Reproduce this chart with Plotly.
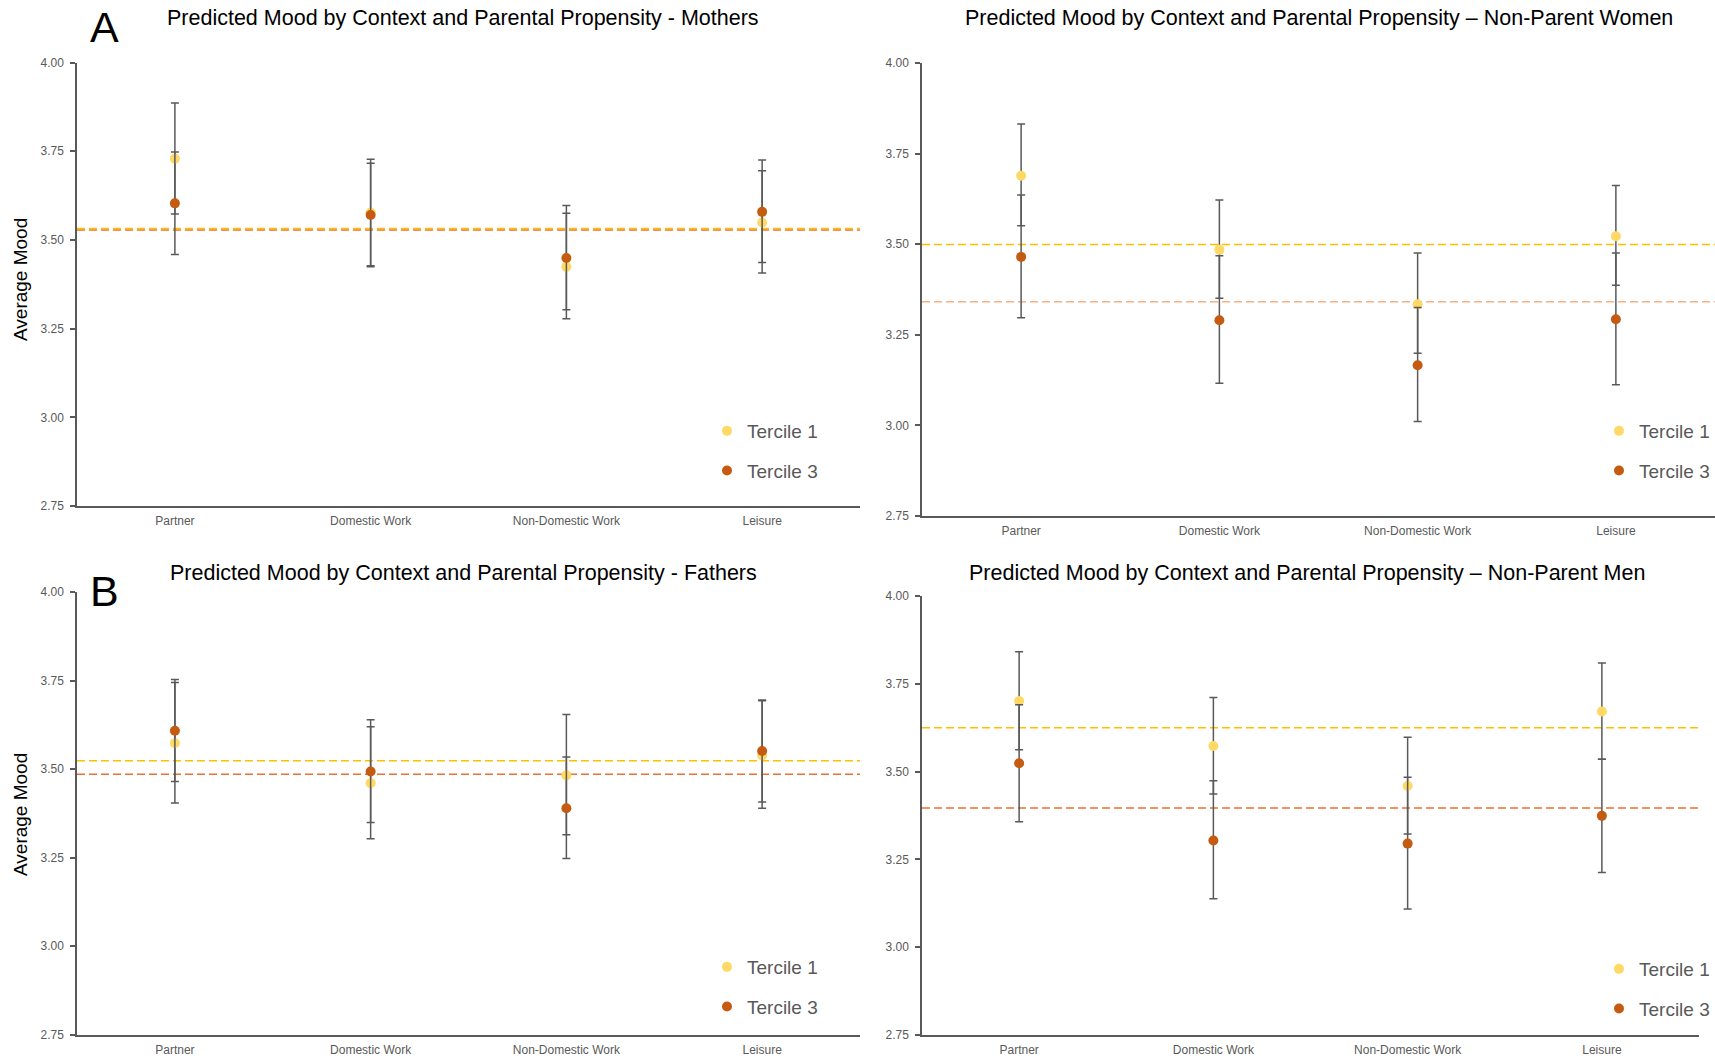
import plotly.graph_objects as go

W, H = 1715, 1062

categories = ["Partner", "Domestic Work", "Non-Domestic Work", "Leisure"]
series_names = ["Tercile 1", "Tercile 3"]
y_ticks = [2.75, 3.00, 3.25, 3.50, 3.75, 4.00]

titles = [
    "Predicted Mood by Context and Parental Propensity - Mothers",
    "Predicted Mood by Context and Parental Propensity \u2013 Non-Parent Women",
    "Predicted Mood by Context and Parental Propensity - Fathers",
    "Predicted Mood by Context and Parental Propensity \u2013 Non-Parent Men",
]

# Mothers
mothers_t1 = [3.729, 3.577, 3.424, 3.549]
mothers_t1_lo = [3.573, 3.427, 3.278, 3.407]
mothers_t1_hi = [3.886, 3.727, 3.575, 3.695]
mothers_t3 = [3.603, 3.570, 3.449, 3.579]
mothers_t3_lo = [3.459, 3.424, 3.303, 3.436]
mothers_t3_hi = [3.748, 3.716, 3.597, 3.725]
mothers_mean = [3.532, 3.528]

# Non-parent women
npw_t1 = [3.689, 3.485, 3.334, 3.522]
npw_t1_lo = [3.551, 3.351, 3.199, 3.387]
npw_t1_hi = [3.832, 3.622, 3.476, 3.662]
npw_t3 = [3.465, 3.290, 3.166, 3.293]
npw_t3_lo = [3.297, 3.116, 3.011, 3.112]
npw_t3_hi = [3.636, 3.468, 3.325, 3.476]
npw_mean = [3.499, 3.341]

# Fathers
fathers_t1 = [3.573, 3.460, 3.482, 3.538]
fathers_t1_lo = [3.404, 3.303, 3.314, 3.389]
fathers_t1_hi = [3.744, 3.619, 3.654, 3.693]
fathers_t3 = [3.608, 3.493, 3.389, 3.551]
fathers_t3_lo = [3.465, 3.349, 3.247, 3.407]
fathers_t3_hi = [3.753, 3.639, 3.534, 3.695]
fathers_mean = [3.523, 3.485]

# Non-parent men
npm_t1 = [3.701, 3.573, 3.459, 3.671]
npm_t1_lo = [3.562, 3.436, 3.322, 3.535]
npm_t1_hi = [3.841, 3.711, 3.598, 3.809]
npm_t3 = [3.524, 3.304, 3.295, 3.374]
npm_t3_lo = [3.357, 3.138, 3.109, 3.213]
npm_t3_hi = [3.690, 3.474, 3.484, 3.535]
npm_mean = [3.625, 3.396]

panels = [
    dict(t1=mothers_t1, t1_lo=mothers_t1_lo, t1_hi=mothers_t1_hi,
         t3=mothers_t3, t3_lo=mothers_t3_lo, t3_hi=mothers_t3_hi, mean=mothers_mean),
    dict(t1=npw_t1, t1_lo=npw_t1_lo, t1_hi=npw_t1_hi,
         t3=npw_t3, t3_lo=npw_t3_lo, t3_hi=npw_t3_hi, mean=npw_mean),
    dict(t1=fathers_t1, t1_lo=fathers_t1_lo, t1_hi=fathers_t1_hi,
         t3=fathers_t3, t3_lo=fathers_t3_lo, t3_hi=fathers_t3_hi, mean=fathers_mean),
    dict(t1=npm_t1, t1_lo=npm_t1_lo, t1_hi=npm_t1_hi,
         t3=npm_t3, t3_lo=npm_t3_lo, t3_hi=npm_t3_hi, mean=npm_mean),
]

# layout in pixels (left, right, top, bottom)
boxes = [
    (77, 860, 62.5, 506),
    (922, 1718, 63, 516),
    (77, 860, 592, 1034.5),
    (922, 1699, 596, 1035),
]
marker_colors = ["#FFD966", "#C55A11"]
mean_colors = [("#FFC000", "#E97132"), ("#FFC000", "#F4B183"),
               ("#FFC000", "#E97132"), ("#FFC000", "#E97132")]
legend_pos = [(727, 432), (1622, 432), (727, 968), (1622, 970)]
title_pos = [(463, 17.5), (1319, 17.5), (463, 573), (1307, 573)]

AX = "#595959"
FONT = "Liberation Sans, Arial, sans-serif"

fig = go.Figure()
layout = dict(width=W, height=H, margin=dict(l=0, r=0, t=0, b=0, autoexpand=False),
              paper_bgcolor="white", plot_bgcolor="white",
              shapes=[], annotations=[])

for i, p in enumerate(panels):
    n = i + 1
    xa = "x" if n == 1 else f"x{n}"
    ya = "y" if n == 1 else f"y{n}"
    lg = "legend" if n == 1 else f"legend{n}"
    L, R, T, B = boxes[i]
    for k, key in enumerate(["t1", "t3"]):
        vals = p[key]
        lo = p[key + "_lo"]
        hi = p[key + "_hi"]
        fig.add_trace(go.Scatter(
            x=categories, y=vals, mode="markers", name=series_names[k],
            xaxis=xa, yaxis=ya, legend=lg, legendgroup=f"{n}-{k}",
            marker=dict(color=marker_colors[k], size=10, line=dict(width=0)),
            error_y=dict(type="data", symmetric=False,
                         array=[h - v for h, v in zip(hi, vals)],
                         arrayminus=[v - l for v, l in zip(vals, lo)],
                         color=AX, thickness=1.5, width=4),
            hoverinfo="x+y",
        ))
    layout["xaxis" if n == 1 else f"xaxis{n}"] = dict(
        domain=[L / W, min(R / W, 1.0)], anchor=ya, type="category",
        categoryorder="array", categoryarray=categories, range=[-0.5, 3.5],
        showline=True, linecolor=AX, linewidth=2, showgrid=False, zeroline=False,
        ticks="", tickfont=dict(family=FONT, size=12, color=AX),
        ticklabelstandoff=3,
    )
    layout["yaxis" if n == 1 else f"yaxis{n}"] = dict(
        domain=[1 - B / H, 1 - T / H], anchor=xa, range=[2.75, 4.0],
        tickvals=y_ticks, tickformat=".2f",
        showline=True, linecolor=AX, linewidth=1.5, showgrid=False, zeroline=False,
        ticks="outside", ticklen=5, tickwidth=1.5, tickcolor=AX,
        tickfont=dict(family=FONT, size=12, color=AX), ticklabelstandoff=4,
    )
    for k in (1, 0):
        layout["shapes"].append(dict(
            type="line", xref=f"{xa} domain", yref=ya, x0=0, x1=1,
            y0=p["mean"][k], y1=p["mean"][k],
            line=dict(color=mean_colors[i][k], width=1.5, dash="8px,4px"),
            layer="below",
        ))
    lx, ly = legend_pos[i]
    if lx > 1000:
        leg_x, leg_anchor = 1.0, "right"
    else:
        leg_x, leg_anchor = (lx - 20) / W, "left"
    layout[lg] = dict(
        x=leg_x, y=1 - (ly - 20) / H, xanchor=leg_anchor, yanchor="top",
        bgcolor="rgba(0,0,0,0)", borderwidth=0, tracegroupgap=12,
        font=dict(family=FONT, size=19, color=AX), itemwidth=30,
    )
    tx, ty = title_pos[i]
    layout["annotations"].append(dict(
        text=titles[i], xref="paper", yref="paper", x=tx / W, y=1 - ty / H,
        xanchor="center", yanchor="middle", showarrow=False,
        font=dict(family=FONT, size=21.5, color="black"),
    ))

# panel letters and y titles
for letter, (lx, ly) in zip(["A", "B"], [(104, 27), (104, 591)]):
    layout["annotations"].append(dict(
        text=letter, xref="paper", yref="paper", x=lx / W, y=1 - ly / H,
        xanchor="center", yanchor="middle", showarrow=False,
        font=dict(family=FONT, size=43, color="black"),
    ))
for (ax_, ay_) in [(20, 280), (20, 815)]:
    layout["annotations"].append(dict(
        text="Average Mood", xref="paper", yref="paper", x=ax_ / W, y=1 - ay_ / H,
        xanchor="center", yanchor="middle", showarrow=False, textangle=-90,
        font=dict(family=FONT, size=19, color="black"),
    ))

fig.update_layout(**layout)
fig.write_html("out.html", config={"displayModeBar": False},
               post_script="document.body.style.margin='0';")
